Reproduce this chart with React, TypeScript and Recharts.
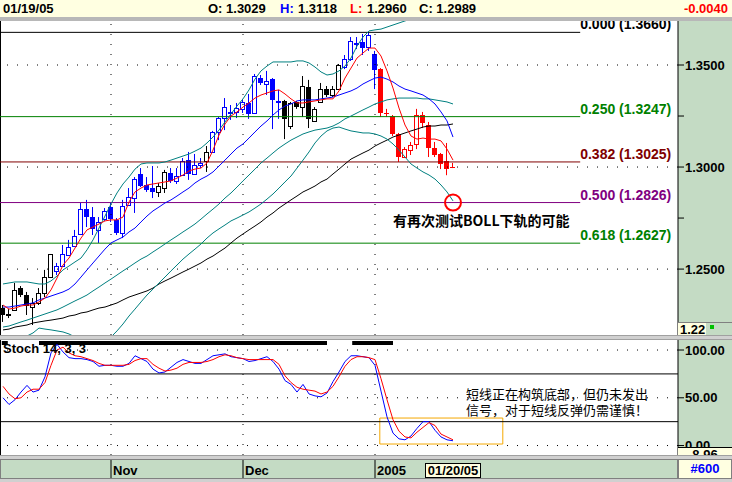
import React from 'react';
import {
  ComposedChart, Bar, Line, XAxis, YAxis,
  ReferenceLine, ReferenceArea, ReferenceDot,
} from 'recharts';

// daily bars, 07 Oct 2004 .. 20 Jan 2005
const OPEN = [1.2309,1.2280,1.2300,1.2407,1.2373,1.2314,1.2334,1.2383,1.2461,1.2491,
  1.2515,1.2569,1.2613,1.2672,1.2794,1.2755,1.2692,1.2745,1.2804,1.2741,
  1.2677,1.2814,1.2848,1.2966,1.2912,1.2897,1.2878,1.2897,1.2971,1.2932,
  1.2961,1.3034,1.2966,1.3010,1.3029,1.3074,1.3172,1.3240,1.3265,1.3270,
  1.3285,1.3314,1.3265,1.3436,1.3407,1.3431,1.3319,1.3324,1.3201,1.3319,
  1.3294,1.3392,1.3226,1.3319,1.3382,1.3353,1.3382,1.3490,1.3529,1.3603,
  1.3613,1.3588,1.3554,1.3480,1.3265,1.3250,1.3162,1.3049,1.3083,1.3113,
  1.3255,1.3206,1.3093,1.3064,1.3029,1.3000];
const HIGH = [1.2324,1.2304,1.2432,1.2417,1.2388,1.2358,1.2407,1.2496,1.2574,1.2530,
  1.2618,1.2643,1.2692,1.2824,1.2839,1.2804,1.2755,1.2799,1.2824,1.2750,
  1.2839,1.2897,1.2951,1.2995,1.2951,1.3005,1.2922,1.2986,1.2995,1.2995,
  1.3044,1.3074,1.3064,1.3044,1.3103,1.3177,1.3245,1.3338,1.3304,1.3314,
  1.3334,1.3358,1.3456,1.3451,1.3471,1.3436,1.3378,1.3329,1.3319,1.3324,
  1.3446,1.3427,1.3294,1.3412,1.3397,1.3397,1.3505,1.3549,1.3637,1.3637,
  1.3652,1.3660,1.3569,1.3485,1.3285,1.3255,1.3167,1.3098,1.3123,1.3285,
  1.3270,1.3221,1.3123,1.3069,1.3118,1.3020];
const LOW = [1.2241,1.2260,1.2295,1.2363,1.2275,1.2226,1.2324,1.2363,1.2456,1.2471,
  1.2510,1.2564,1.2608,1.2667,1.2706,1.2667,1.2628,1.2736,1.2731,1.2667,
  1.2652,1.2809,1.2775,1.2902,1.2878,1.2848,1.2853,1.2873,1.2922,1.2917,
  1.2956,1.2937,1.2961,1.2995,1.2976,1.3069,1.3132,1.3181,1.3231,1.3240,
  1.3265,1.3236,1.3260,1.3402,1.3353,1.3186,1.3236,1.3137,1.3186,1.3285,
  1.3245,1.3191,1.3221,1.3314,1.3343,1.3343,1.3378,1.3480,1.3520,1.3578,
  1.3549,1.3569,1.3382,1.3245,1.3245,1.3152,1.3025,1.3044,1.3059,1.3088,
  1.3191,1.3049,1.3049,1.2990,1.2960,1.2995];
const CLOSE = [1.2275,1.2270,1.2398,1.2373,1.2319,1.2334,1.2383,1.2461,1.2574,1.2515,
  1.2574,1.2608,1.2662,1.2794,1.2755,1.2697,1.2731,1.2785,1.2745,1.2677,
  1.2809,1.2853,1.2941,1.2907,1.2888,1.2878,1.2907,1.2976,1.2932,1.2956,
  1.3029,1.2966,1.3010,1.3020,1.3074,1.3172,1.3240,1.3294,1.3270,1.3289,
  1.3319,1.3260,1.3446,1.3412,1.3422,1.3329,1.3324,1.3236,1.3314,1.3294,
  1.3397,1.3236,1.3285,1.3382,1.3353,1.3382,1.3500,1.3529,1.3618,1.3608,
  1.3583,1.3647,1.3475,1.3265,1.3260,1.3162,1.3049,1.3088,1.3108,1.3255,
  1.3216,1.3093,1.3059,1.3015,1.2989,1.2995];
// trend state of each bar: 1 bull, 0 neutral, -1 bear
const TREND = [0,0,0,0,0,0,0,0,0,
  1,1,1,1,1,1,1,1,1,1,1,1,1,1,1,1,1,
  0,0,
  1,1,1,1,1,1,
  0,
  1,1,1,1,1,1,1,1,1,1,1,1,
  0,0,0,0,0,0,0,0,0,0,
  1,1,1,1,1,1,
  -1,-1,-1,-1,-1,-1,-1,-1,-1,-1,-1,-1,-1];

const MA_FAST = [1.2324,1.2304,1.2309,1.2319,1.2324,1.2324,1.2339,1.2358,1.2398,1.2456,
  1.2520,1.2554,1.2603,1.2652,1.2692,1.2706,1.2721,1.2736,1.2741,1.2741,
  1.2755,1.2829,1.2878,1.2897,1.2912,1.2917,1.2922,1.2927,1.2932,1.2946,
  1.2961,1.2981,1.2990,1.2995,1.3020,1.3083,1.3157,1.3211,1.3250,1.3270,
  1.3294,1.3314,1.3338,1.3353,1.3363,1.3373,1.3378,1.3358,1.3334,1.3314,
  1.3314,1.3319,1.3324,1.3329,1.3334,1.3334,1.3373,1.3436,1.3485,1.3534,
  1.3559,1.3583,1.3583,1.3544,1.3471,1.3387,1.3289,1.3206,1.3152,1.3137,
  1.3142,1.3137,1.3137,1.3128,1.3088,1.3034];
const MA_MID = [1.2314,1.2314,1.2319,1.2324,1.2329,1.2334,1.2349,1.2358,1.2368,1.2378,
  1.2388,1.2402,1.2427,1.2461,1.2496,1.2530,1.2564,1.2598,1.2628,1.2643,
  1.2657,1.2682,1.2701,1.2731,1.2760,1.2785,1.2804,1.2824,1.2839,1.2858,
  1.2878,1.2897,1.2922,1.2941,1.2956,1.2976,1.3005,1.3034,1.3064,1.3093,
  1.3113,1.3142,1.3172,1.3201,1.3226,1.3255,1.3280,1.3299,1.3309,1.3324,
  1.3329,1.3329,1.3329,1.3334,1.3338,1.3343,1.3353,1.3363,1.3373,1.3387,
  1.3407,1.3422,1.3436,1.3441,1.3431,1.3417,1.3397,1.3382,1.3373,1.3363,
  1.3353,1.3334,1.3309,1.3270,1.3226,1.3147];
const MA_SLOW = [1.2216,1.2221,1.2231,1.2241,1.2250,1.2260,1.2270,1.2280,1.2290,1.2300,
  1.2314,1.2329,1.2344,1.2358,1.2373,1.2393,1.2412,1.2432,1.2451,1.2471,
  1.2491,1.2510,1.2530,1.2549,1.2564,1.2584,1.2603,1.2623,1.2643,1.2662,
  1.2682,1.2701,1.2721,1.2745,1.2770,1.2794,1.2819,1.2848,1.2873,1.2902,
  1.2932,1.2961,1.2990,1.3020,1.3044,1.3069,1.3093,1.3113,1.3132,1.3147,
  1.3162,1.3172,1.3181,1.3186,1.3191,1.3201,1.3216,1.3236,1.3250,1.3265,
  1.3280,1.3294,1.3309,1.3319,1.3329,1.3334,1.3338,1.3338,1.3338,1.3338,
  1.3334,1.3334,1.3329,1.3324,1.3319,1.3309];
const MA_LONG = [1.2202,1.2206,1.2216,1.2221,1.2226,1.2236,1.2241,1.2246,1.2250,1.2255,
  1.2260,1.2270,1.2275,1.2285,1.2290,1.2300,1.2309,1.2314,1.2324,1.2334,
  1.2349,1.2363,1.2373,1.2383,1.2393,1.2407,1.2427,1.2442,1.2456,1.2471,
  1.2486,1.2500,1.2515,1.2530,1.2549,1.2564,1.2584,1.2603,1.2628,1.2652,
  1.2672,1.2692,1.2711,1.2731,1.2755,1.2775,1.2799,1.2819,1.2839,1.2858,
  1.2878,1.2892,1.2907,1.2927,1.2941,1.2966,1.2990,1.3015,1.3039,1.3054,
  1.3069,1.3083,1.3103,1.3118,1.3132,1.3147,1.3157,1.3167,1.3177,1.3186,
  1.3196,1.3201,1.3201,1.3206,1.3206,1.3211];
const BOLL_UP = [1.2427,1.2432,1.2437,1.2437,1.2437,1.2432,1.2427,1.2427,1.2442,1.2466,
  1.2496,1.2515,1.2535,1.2554,1.2594,1.2643,1.2701,1.2760,1.2819,1.2873,
  1.2917,1.2951,1.2990,1.3015,1.3020,1.3020,1.3020,1.3025,1.3034,1.3044,
  1.3054,1.3064,1.3078,1.3093,1.3118,1.3147,1.3181,1.3221,1.3260,1.3299,
  1.3334,1.3378,1.3431,1.3471,1.3495,1.3515,1.3515,1.3515,1.3515,1.3520,
  1.3520,1.3510,1.3490,1.3466,1.3451,1.3456,1.3471,1.3495,1.3534,1.3593,
  1.3637,1.3667,1.3672,1.3676,1.3686,1.3696,1.3706,1.3716,1.3725,1.3740,
  1.3755,1.3769,1.3784,1.3799,1.3814,1.3828];
const BOLL_LOW = [1.2128,1.2143,1.2153,1.2162,1.2172,1.2187,1.2211,1.2206,1.2202,1.2197,
  1.2192,1.2182,1.2167,1.2143,1.2118,1.2103,1.2113,1.2138,1.2167,1.2197,
  1.2231,1.2270,1.2304,1.2339,1.2373,1.2402,1.2432,1.2461,1.2491,1.2520,
  1.2549,1.2574,1.2598,1.2623,1.2652,1.2677,1.2697,1.2716,1.2736,1.2750,
  1.2765,1.2780,1.2799,1.2819,1.2843,1.2868,1.2897,1.2927,1.2956,1.2995,
  1.3034,1.3074,1.3118,1.3152,1.3177,1.3191,1.3196,1.3186,1.3177,1.3172,
  1.3167,1.3167,1.3162,1.3152,1.3137,1.3113,1.3083,1.3049,1.3015,1.2995,
  1.2976,1.2961,1.2941,1.2912,1.2878,1.2834];

const STOCH_K = [50,43,48,56,63,56,58,72,97,106,
  98,92,91,91,90,88,83,84,84,83,
  83,86,94,91,88,80,76,77,82,87,
  90,88,86,86,90,94,95,96,93,92,
  91,88,89,91,93,88,80,68,64,56,
  64,54,52,51,55,67,77,88,94,94,
  93,92,84,57,30,13,7,6,10,18,
  25,25,16,9,6,5];
const STOCH_D = [62,54,49,50,56,59,59,66,84,100,
  103,97,94,93,91,89,86,84,84,84,
  84,85,89,91,91,85,81,78,79,81,
  85,87,87,87,88,90,93,95,94,92,
  91,90,90,90,90,90,85,73,66,61,
  59,58,57,54,56,62,72,83,90,93,
  93,92,90,70,48,27,15,9,8,14,
  19,24,21,12,9,6];

const FIB_RATIOS = ['0.000', '0.250', '0.382', '0.500', '0.618'];
const FIB_PRICES = [1.3660, 1.3247, 1.3025, 1.2826, 1.2627];
const FIB_END = 96.2;

const PRICE_TICKS = [1.25, 1.275, 1.3, 1.325, 1.35];
const PRICE_LABELS = [1.25, 1.3, 1.35];
const STOCH_TICKS = [0, 50, 100];
const STOCH_BANDS = [25, 75];
const MONTH_STARTS = [18, 40, 62];
const MONTH_LABELS = ['Nov', 'Dec', '2005'];
const CURRENT_BAR = 75;
const CURRENT_DATE = '01/20/05';
const OVERBOUGHT_RUNS = [[-0.2, 0.8], [6, 54], [58.2, 65]];
const BOTTOM_BOX = { x1: 62.8, x2: 83.3, y1: 1.6, y2: 28.8 };

const X_DOMAIN = [-0.5, 112.5];
const PRICE_DOMAIN = [1.2177, 1.37205];
const STOCH_DOMAIN = [-9.9, 110.5];

const FONT = "'Liberation Sans', Arial, sans-serif";
const CJK = "'Noto Sans CJK SC', 'Noto Sans CJK TC', sans-serif";
const FIB_COLORS = ['#000000', '#008000', '#800000', '#800080', '#008000'];
const TREND_COLORS: Record<string, string> = { '1': '#0000FF', '0': '#000000', '-1': '#FF0000' };
const AXIS_BG = '#C4DBC4';
const GRAY = '#D0D0D0';
const CREAM = '#FFFFE1';

const rows = OPEN.map((o, i) => ({
  i,
  open: o,
  high: HIGH[i],
  low: LOW[i],
  close: CLOSE[i],
  range: [LOW[i], HIGH[i]],
  trend: TREND[i],
  maFast: MA_FAST[i],
  maMid: MA_MID[i],
  maSlow: MA_SLOW[i],
  maLong: MA_LONG[i],
  bollUp: BOLL_UP[i],
  bollLow: BOLL_LOW[i],
  k: STOCH_K[i],
  d: STOCH_D[i],
}));

const Candle = (props: any) => {
  const { x, y, width, height, payload } = props;
  if (!payload || x == null) return null;
  const top = Math.min(y, y + height);
  const span = Math.abs(height);
  const { open, close, high, low, trend } = payload;
  const k = span / (high - low || 1);
  const py = (v: number) => top + (high - v) * k;
  const cx = Math.floor(x + width / 2) + 0.5;
  const color = TREND_COLORS[String(trend)];
  const bTop = Math.round(Math.min(py(open), py(close)));
  const bBot = Math.round(Math.max(py(open), py(close)));
  const h = Math.max(bBot - bTop, 1);
  return (
    <g>
      <line x1={cx} x2={cx} y1={top} y2={top + span} stroke={color} />
      {close > open
        ? <rect x={cx - 2} y={bTop + 0.5} width={4} height={h} fill="#fff" stroke={color} />
        : <rect x={cx - 2.5} y={bTop} width={5} height={h} fill={color} />}
    </g>
  );
};

const PriceTick = ({ x, y, payload }: any) => (
  <g>
    <line x1={x} x2={x + 6} y1={y} y2={y} stroke="#000" />
    {PRICE_LABELS.includes(payload.value) && (
      <text x={x + 7} y={y} dy="0.36em" fontFamily={FONT} fontWeight="bold" fontSize={13} fill="#000">
        {payload.value.toFixed(4)}
      </text>
    )}
  </g>
);

const StochTick = ({ x, y, payload }: any) => (
  <g>
    <line x1={x} x2={x + 6} y1={y} y2={y} stroke="#000" />
    <text x={x + 7} y={y} dy="0.36em" fontFamily={FONT} fontWeight="bold" fontSize={13} fill="#000">
      {payload.value.toFixed(2)}
    </text>
  </g>
);

const DateTick = ({ x, y, payload }: any) => {
  const v = payload.value;
  if (v === CURRENT_BAR) {
    return (
      <g>
        <rect x={x - 27.5} y={y + 8.5} width={55} height={14} fill={CREAM} stroke="#000" />
        <text x={x} y={y + 20} textAnchor="middle" fontFamily={FONT} fontWeight="bold" fontSize={13}>{CURRENT_DATE}</text>
      </g>
    );
  }
  const idx = MONTH_STARTS.indexOf(v);
  return (
    <g>
      <line x1={x} x2={x} y1={y + 5} y2={y + 23} stroke="#000" />
      <text x={x + 2} y={y + 20} fontFamily={FONT} fontWeight="bold" fontSize={13}>{MONTH_LABELS[idx]}</text>
    </g>
  );
};

const fibLabel = (text: string, color: string) => (p: any) => {
  const vb = p && p.viewBox;
  if (!vb) return null;
  return (
    <text x={vb.x + vb.width} y={vb.y - 3} fontFamily={FONT} fontWeight="bold" fontSize={14} fill={color}>
      {text}
    </text>
  );
};

const abs = (left: number, top: number, width: number, height: number, extra: any = {}) => ({
  position: 'absolute' as const, left, top, width, height, ...extra,
});

export default function App() {
  const margin = { top: 0, right: 0, bottom: 0, left: 0 };
  return (
    <div style={{ position: 'fixed', left: 0, top: 0, width: 732, height: 482, background: GRAY, overflow: 'hidden', fontFamily: FONT }}>
      {/* panel backgrounds */}
      <div style={abs(0, 20, 678, 315, { background: '#fff', borderLeft: '1px solid #000', boxSizing: 'border-box' })} />
      <div style={abs(678, 20, 54, 315, { background: AXIS_BG })} />
      <div style={abs(0, 340, 678, 115, { background: '#fff', borderLeft: '1px solid #000', boxSizing: 'border-box' })} />
      <div style={abs(678, 340, 54, 115, { background: AXIS_BG })} />
      <div style={abs(0, 459, 678, 20, { background: AXIS_BG, border: '1px solid #808080', boxSizing: 'border-box' })} />

      <div style={abs(0, 20, 732, 315)}>
        <ComposedChart width={732} height={315} data={rows} margin={margin}>
          <XAxis type="number" dataKey="i" domain={X_DOMAIN} hide allowDataOverflow />
          <YAxis orientation="right" width={54} domain={PRICE_DOMAIN} allowDataOverflow
            ticks={PRICE_TICKS} interval={0} tick={<PriceTick />} tickLine={false}
            tickSize={0} tickMargin={0} axisLine={{ stroke: '#000' }} />
          {PRICE_LABELS.map(v => (
            <ReferenceLine key={'g' + v} y={v} stroke="#000" strokeDasharray="1 9" />
          ))}
          {MONTH_STARTS.map(v => (
            <ReferenceLine key={'m' + v} x={v} stroke="#000" strokeDasharray="1 9" />
          ))}
          {FIB_PRICES.map((p, n) => (
            <ReferenceLine key={'f' + n} segment={[{ x: X_DOMAIN[0], y: p }, { x: FIB_END, y: p }]}
              stroke={FIB_COLORS[n]} strokeWidth={1}
              label={fibLabel(`${FIB_RATIOS[n]} (${p.toFixed(4)})`, FIB_COLORS[n])} />
          ))}
          <Bar dataKey="range" barSize={5} isAnimationActive={false} shape={(p: any) => <Candle {...p} />} />
          <Line dataKey="maLong" stroke="#000000" strokeWidth={1} dot={false} isAnimationActive={false} />
          <Line dataKey="maSlow" stroke="#008080" strokeWidth={1} dot={false} isAnimationActive={false} />
          <Line dataKey="bollUp" stroke="#008080" strokeWidth={1} dot={false} isAnimationActive={false} />
          <Line dataKey="bollLow" stroke="#008080" strokeWidth={1} dot={false} isAnimationActive={false} />
          <Line dataKey="maMid" stroke="#0000FF" strokeWidth={1} dot={false} isAnimationActive={false} />
          <Line dataKey="maFast" stroke="#FF0000" strokeWidth={1} dot={false} isAnimationActive={false} />
          <ReferenceDot x={CURRENT_BAR} y={FIB_PRICES[3]} r={8} fill="none" stroke="#FF0000" strokeWidth={2} />
        </ComposedChart>
      </div>

      <div style={abs(0, 340, 732, 139)}>
        <ComposedChart width={732} height={139} data={rows} margin={margin}>
          <XAxis type="number" dataKey="i" domain={X_DOMAIN} allowDataOverflow height={24}
            ticks={[...MONTH_STARTS, CURRENT_BAR]} interval={0} tick={<DateTick />}
            tickLine={false} axisLine={false} tickSize={0} tickMargin={0} />
          <YAxis orientation="right" width={54} domain={STOCH_DOMAIN} allowDataOverflow
            ticks={STOCH_TICKS} interval={0} tick={<StochTick />} tickLine={false}
            tickSize={0} tickMargin={0} axisLine={{ stroke: '#000' }} />
          {STOCH_TICKS.map(v => (
            <ReferenceLine key={'g' + v} y={v} stroke="#000" strokeDasharray="1 9" />
          ))}
          {STOCH_BANDS.map(v => (
            <ReferenceLine key={'b' + v} y={v} stroke="#000" />
          ))}
          {MONTH_STARTS.map(v => (
            <ReferenceLine key={'m' + v} x={v} stroke="#000" strokeDasharray="1 9" />
          ))}
          {OVERBOUGHT_RUNS.map(([a, b], n) => (
            <ReferenceArea key={'o' + n} x1={a} x2={b} y1={105.3} y2={109.4} fill="#000" fillOpacity={1} stroke="none" />
          ))}
          <ReferenceArea x1={BOTTOM_BOX.x1} x2={BOTTOM_BOX.x2} y1={BOTTOM_BOX.y1} y2={BOTTOM_BOX.y2}
            fill="none" fillOpacity={0} stroke="#F5A800" strokeWidth={1} />
          <Line dataKey="k" stroke="#0000FF" strokeWidth={1} dot={false} isAnimationActive={false} />
          <Line dataKey="d" stroke="#FF0000" strokeWidth={1} dot={false} isAnimationActive={false} />
        </ComposedChart>
      </div>

      {/* annotations */}
      <div style={abs(393, 211, 200, 18, { fontFamily: CJK, fontWeight: 'bold', fontSize: 14, lineHeight: '18px', color: '#000', whiteSpace: 'nowrap' })}>
        有再次测试BOLL下轨的可能
      </div>
      <div style={abs(466, 386, 200, 34, { fontFamily: CJK, fontSize: 13, lineHeight: '16px', color: '#000', whiteSpace: 'nowrap' })}>
        短线正在构筑底部，但仍未发出<br />信号，对于短线反弹仍需谨慎！
      </div>
      <div style={abs(3, 341, 120, 15, { fontWeight: 'bold', fontSize: 13, lineHeight: '15px', whiteSpace: 'nowrap' })}>
        Stoch 14, 3, 3
      </div>

      {/* corner boxes */}
      <div style={abs(678, 322, 28, 13, { background: CREAM, borderTop: '1px solid #808080', overflow: 'hidden', fontWeight: 'bold', fontSize: 13, lineHeight: '14px', paddingLeft: 2, boxSizing: 'border-box' })}>1.22</div>
      <div style={abs(706, 322, 26, 13, { background: AXIS_BG, borderTop: '1px solid #808080', boxSizing: 'border-box' })}>
        <div style={abs(4, 2, 4, 4, { background: '#00C000' })} />
      </div>
      <div style={abs(678, 447, 54, 9, { background: CREAM, borderTop: '1px solid #000', overflow: 'hidden', fontWeight: 'bold', fontSize: 13, lineHeight: '14px', textAlign: 'center', boxSizing: 'border-box' })}>8.96</div>
      <div style={abs(678, 459, 54, 20, { background: CREAM, border: '1px solid #808080', boxSizing: 'border-box', color: '#0000FF', fontWeight: 'bold', fontSize: 13, lineHeight: '18px', textAlign: 'center' })}>#600</div>

      {/* separators */}
      <div style={abs(0, 335, 732, 5, { background: GRAY, borderTop: '1px solid #A0A0A0', borderBottom: '1px solid #A0A0A0', boxSizing: 'border-box' })} />
      <div style={abs(0, 455, 732, 4, { background: GRAY, borderTop: '1px solid #A0A0A0', boxSizing: 'border-box' })} />

      {/* header */}
      <div style={abs(0, 0, 732, 21, { background: CREAM, borderBottom: '4px solid #B8B8B8', boxSizing: 'border-box', fontWeight: 'bold', fontSize: 13, lineHeight: '17px', color: '#000' })}>
        <span style={{ position: 'absolute', left: 3 }}>01/19/05</span>
        <span style={{ position: 'absolute', left: 208 }}>O: 1.3029</span>
        <span style={{ position: 'absolute', left: 280, color: '#0000FF' }}>H:</span>
        <span style={{ position: 'absolute', left: 298 }}>1.3118</span>
        <span style={{ position: 'absolute', left: 350, color: '#FF0000' }}>L:</span>
        <span style={{ position: 'absolute', left: 367 }}>1.2960</span>
        <span style={{ position: 'absolute', left: 419 }}>C: 1.2989</span>
        <span style={{ position: 'absolute', right: 4, color: '#FF0000' }}>-0.0040</span>
      </div>
    </div>
  );
}
